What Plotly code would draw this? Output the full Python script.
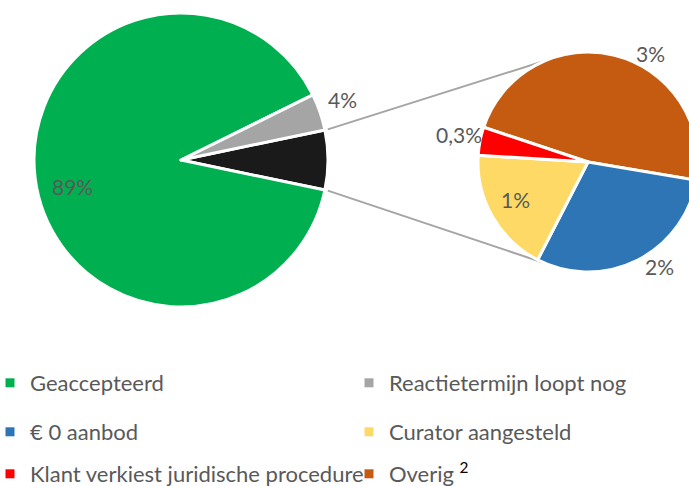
import math
import plotly.graph_objects as go

# ---- data ----
main_labels = ["Geaccepteerd", "Reactietermijn loopt nog"]
main_values = [89.0, 4.0]
main_text = ["89%", "4%"]

sec_labels = ["Overig", "€ 0 aanbod", "Curator aangesteld", "Klant verkiest juridische procedure"]
sec_values = [3.1, 1.95, 1.2, 0.27]
sec_text = ["3%", "2%", "1%", "0,3%"]

legend_order = ["Geaccepteerd", "Reactietermijn loopt nog", "€ 0 aanbod",
                "Curator aangesteld", "Klant verkiest juridische procedure", "Overig"]

# ---- style ----
OFF = 0
W, H = 698, 486   # slightly wider than the window: the second pie is cut at the right edge
colors = {
    "Geaccepteerd": "#00B050",
    "Reactietermijn loopt nog": "#A5A5A5",
    "Overig": "#C55A11",
    "€ 0 aanbod": "#2E75B6",
    "Curator aangesteld": "#FFD966",
    "Klant verkiest juridische procedure": "#FF0000",
    "rest": "#1A1A1A",
}
FONT = "Lato, Carlito, Calibri, sans-serif"
TXT = "#595959"
LABEL_SIZE = 21

rest_value = sum(sec_values)
total_main = sum(main_values) + rest_value
rest_deg = 360 * rest_value / total_main

# pie geometry (window pixels)
C1 = (181, 160)
R1 = 147
C2 = (588, 162)
R2 = 110
SEC_ROT = -71.6  # clockwise from 12 o'clock


def px(x):
    return (x - OFF) / W


def py(y):
    return 1 - (y - OFF) / H


fig = go.Figure()

# main pie: order clockwise: rest (black), green, gray
fig.add_trace(go.Pie(
    labels=["rest", main_labels[0], main_labels[1]],
    values=[rest_value, main_values[0], main_values[1]],
    textinfo="none",
    sort=False,
    direction="clockwise",
    rotation=90 - rest_deg / 2,
    marker=dict(colors=[colors["rest"], colors[main_labels[0]], colors[main_labels[1]]],
                line=dict(color="white", width=3)),
    domain=dict(x=[px(C1[0] - R1), px(C1[0] + R1)], y=[py(C1[1] + R1), py(C1[1] - R1)]),
    showlegend=False,
    hoverinfo="label+value",
))


def add_label(cx, cy, r, ang_deg, text):
    a = math.radians(ang_deg)
    fig.add_annotation(x=px(cx + r * math.cos(a)), y=py(cy - r * math.sin(a)),
                       xref="paper", yref="paper", xanchor="center", yanchor="middle",
                       text=text, showarrow=False,
                       font=dict(family=FONT, size=LABEL_SIZE, color=TXT))


# labels of the main pie (angles in math degrees, counterclockwise from east)
green_mid = rest_deg / 2 + 360 * main_values[1] / total_main + 180 * main_values[0] / total_main
gray_mid = rest_deg / 2 + 180 * main_values[1] / total_main
add_label(C1[0], C1[1], 0.76 * R1, green_mid + 6.5, main_text[0])
add_label(C1[0], C1[1], 1.17 * R1, gray_mid + 1.5, main_text[1])

# secondary pie: clockwise order: orange, blue, yellow, red
fig.add_trace(go.Pie(
    labels=sec_labels,
    values=sec_values,
    textinfo="none",
    sort=False,
    direction="clockwise",
    rotation=SEC_ROT,
    marker=dict(colors=[colors[l] for l in sec_labels], line=dict(color="white", width=3)),
    domain=dict(x=[px(C2[0] - R2), 1], y=[py(C2[1] + R2), py(C2[1] - R2)]),
    showlegend=False,
    hoverinfo="label+value",
))

# labels of the secondary pie, placed around each slice's mid angle
sec_total = sum(sec_values)
label_r = [1.14, 1.15, 0.74, 1.2]
label_shift = [-16, 8, -2, -1]
cum = 0.0
for v, t, rf, sh in zip(sec_values, sec_text, label_r, label_shift):
    mid_cw = SEC_ROT + 360 * (cum + v / 2) / sec_total
    add_label(C2[0], C2[1], rf * R2, 90 - mid_cw + sh, t)
    cum += v

# connector lines from the black slice edges to the secondary pie
half = math.radians(rest_deg / 2)
p_top = (C1[0] + (R1 + 3) * math.cos(half), C1[1] - (R1 + 3) * math.sin(half))
p_bot = (C1[0] + (R1 + 3) * math.cos(half), C1[1] + (R1 + 3) * math.sin(half))
a_top = math.radians(113)
a_bot = math.radians(-113)
q_top = (C2[0] + R2 * math.cos(a_top), C2[1] - R2 * math.sin(a_top))
q_bot = (C2[0] + R2 * math.cos(a_bot), C2[1] - R2 * math.sin(a_bot))
for p, q in [(p_top, q_top), (p_bot, q_bot)]:
    fig.add_shape(type="line", xref="paper", yref="paper",
                  x0=px(p[0]), y0=py(p[1]), x1=px(q[0]), y1=py(q[1]),
                  line=dict(color="#A5A5A5", width=2), layer="below")

# legend: one small legend per entry, arranged as 3 rows x 2 columns (window px)
col_x = [-10, 349]
row_y = [383, 432, 474]
legend_layout = {}
for i, name in enumerate(legend_order):
    lg = "legend" if i == 0 else f"legend{i + 1}"
    disp = name if name != "Overig" else "Overig <sup><span style='color:black'>2</span></sup>"
    fig.add_trace(go.Scatter(
        x=[None], y=[None], mode="markers", name=disp,
        marker=dict(symbol="square", size=9, color=colors[name]),
        legend=lg, showlegend=True, hoverinfo="skip",
    ))
    legend_layout[lg] = dict(
        x=px(col_x[i % 2]), y=py(row_y[i // 2]), xanchor="left", yanchor="middle",
        font=dict(family=FONT, size=22, color=TXT), itemwidth=30,
        bgcolor="rgba(0,0,0,0)", borderwidth=0)

fig.update_layout(
    width=W, height=H,
    margin=dict(l=0, r=0, t=0, b=0, autoexpand=False),
    paper_bgcolor="white", plot_bgcolor="white",
    xaxis=dict(visible=False), yaxis=dict(visible=False),
    showlegend=True,
    **legend_layout,
)

fig.write_html(
    "out.html",
    config={"displayModeBar": False},
    post_script="document.body.style.margin='0';"
                "document.documentElement.style.overflow='hidden';"
                "document.body.style.overflow='hidden';",
)
